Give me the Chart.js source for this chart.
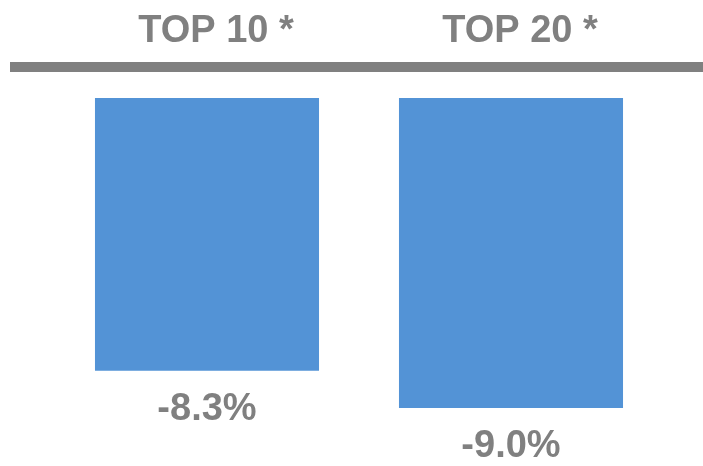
<!DOCTYPE html>
<html>
<head>
<meta charset="utf-8">
<script src="https://cdn.jsdelivr.net/npm/chart.js@4/dist/chart.umd.min.js"></script>
<style>
  html, body { margin: 0; padding: 0; background: #fff; }
  #wrap { width: 703px; height: 466px; }
</style>
</head>
<body>
<div id="wrap"><canvas id="myChart"></canvas></div>
<script>
const categories = ["TOP 10 *", "TOP 20 *"];
const changes = [-8.3, -9.0];

const grey = "#808080";
const barBlue = "#5393D6";

// thick rule under the category headers
const topRule = {
  id: "topRule",
  beforeDatasetsDraw(chart) {
    const ctx = chart.ctx;
    ctx.save();
    ctx.strokeStyle = grey;
    ctx.lineWidth = 10;
    ctx.beginPath();
    ctx.moveTo(10, 67);
    ctx.lineTo(chart.width, 67);
    ctx.stroke();
    ctx.restore();
  },
};

// percentage under the end of each bar
const valueLabels = {
  id: "valueLabels",
  afterDatasetsDraw(chart) {
    const ctx = chart.ctx;
    const meta = chart.getDatasetMeta(0);
    ctx.save();
    ctx.fillStyle = grey;
    ctx.font = "bold 38px 'Liberation Sans', Arial, sans-serif";
    ctx.textAlign = "center";
    ctx.textBaseline = "alphabetic";
    meta.data.forEach(function (bar, i) {
      ctx.fillText(changes[i].toFixed(1) + "%", bar.x, bar.y + 49);
    });
    ctx.restore();
  },
};

new Chart(document.getElementById("myChart").getContext("2d"), {
  type: "bar",
  data: {
    labels: categories,
    datasets: [
      {
        data: changes,
        backgroundColor: barBlue,
        categoryPercentage: 1,
        barPercentage: 0.737,
      },
    ],
  },
  options: {
    responsive: true,
    maintainAspectRatio: false,
    animation: false,
    events: [],
    layout: { padding: { left: 55, right: 40, top: 6, bottom: 10 } },
    plugins: {
      legend: { display: false },
      tooltip: { enabled: false },
    },
    scales: {
      x: {
        position: "top",
        grid: { display: false, drawTicks: false },
        border: { display: false },
        afterFit(scale) {
          scale.height = 92;
        },
        ticks: {
          color: grey,
          padding: 44,
          labelOffset: 9,
          maxRotation: 0,
          font: { family: "'Liberation Sans', Arial, sans-serif", size: 38, weight: "bold" },
        },
      },
      y: {
        display: false,
        min: -9.91,
        max: -3.14,
      },
    },
  },
  plugins: [topRule, valueLabels],
});
</script>
</body>
</html>
